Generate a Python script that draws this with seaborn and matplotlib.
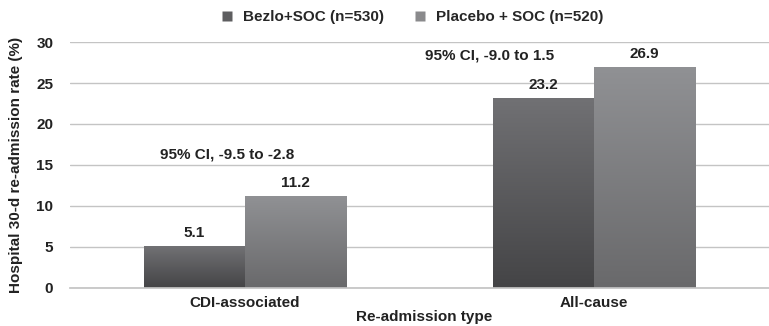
import numpy as np
import pandas as pd
import seaborn as sns
import matplotlib.pyplot as plt
from matplotlib.colors import LinearSegmentedColormap
from matplotlib.lines import Line2D

# dados do grafico
categorias = ["CDI-associated", "All-cause"]
grupos = ["Bezlo+SOC (n=530)", "Placebo + SOC (n=520)"]
bezlo = [5.1, 23.2]
placebo = [11.2, 26.9]
ci_textos = ["95% CI, -9.5 to -2.8", "95% CI, -9.0 to 1.5"]

df = pd.DataFrame({
    "tipo": categorias * 2,
    "grupo": [grupos[0]] * 2 + [grupos[1]] * 2,
    "taxa": bezlo + placebo,
})

sns.set_theme(style="white")
plt.rcParams["font.family"] = ["Liberation Sans", "DejaVu Sans"]
plt.rcParams["font.weight"] = "bold"

fs = 11
cor_txt = "#222222"

fig = plt.figure(figsize=(7.69, 3.26), dpi=100)
ax = fig.add_axes([0.091, 0.117, 0.909, 0.754])

cores = {grupos[0]: "#5e5e60", grupos[1]: "#7e7f81"}
sns.barplot(data=df, x="tipo", y="taxa", hue="grupo", order=categorias,
            hue_order=grupos, palette=cores, width=0.578, ax=ax,
            legend=False, saturation=1, edgecolor="none")

# gradiente vertical nas barras
gradientes = {
    grupos[0]: LinearSegmentedColormap.from_list("g0", ["#444446", "#717174"]),
    grupos[1]: LinearSegmentedColormap.from_list("g1", ["#69696b", "#909194"]),
}
ordem = [grupos[0]] * 2 + [grupos[1]] * 2
grad = np.linspace(0, 1, 256).reshape(-1, 1)
for patch, g in zip(ax.patches, ordem):
    x0, y0 = patch.get_x(), patch.get_y()
    w, h = patch.get_width(), patch.get_height()
    im = ax.imshow(grad, cmap=gradientes[g], origin="lower", aspect="auto",
                   extent=[x0, x0 + w, y0, y0 + h], zorder=patch.get_zorder())
    im.set_clip_path(patch)
    ax.text(x0 + w / 2, y0 + h + 1.6, f"{h:.1f}", ha="center", va="center",
            fontsize=fs, fontweight="bold", color=cor_txt)

ax.set_xlim(-0.5, 1.5)
ax.set_ylim(0, 30)
ax.set_yticks(range(0, 31, 5))
ax.yaxis.grid(True, color="#c4c4c4", linewidth=1)
ax.set_axisbelow(True)
for s in ["left", "right", "top"]:
    ax.spines[s].set_visible(False)
ax.spines["bottom"].set_color("#c4c4c4")
ax.tick_params(axis="y", length=0, labelsize=fs, colors=cor_txt, pad=12)
ax.tick_params(axis="x", length=0, labelsize=fs, colors=cor_txt, pad=6)
for lbl in ax.get_xticklabels() + ax.get_yticklabels():
    lbl.set_fontweight("bold")

ax.set_ylabel("Hospital 30-d re-admission rate (%)", fontsize=fs,
              fontweight="bold", color=cor_txt, va="center")
ax.yaxis.set_label_coords(-0.077, 0.5)
ax.set_xlabel("Re-admission type", fontsize=fs, fontweight="bold",
              color=cor_txt, va="center")
ax.xaxis.set_label_coords(0.506, -0.118)

# textos de intervalo de confianca
ax.text(-0.05, 16.3, ci_textos[0], ha="center", va="center", fontsize=fs,
        fontweight="bold", color=cor_txt)
ax.text(0.70, 28.3, ci_textos[1], ha="center", va="center", fontsize=fs,
        fontweight="bold", color=cor_txt)

handles = [Line2D([], [], marker="s", linestyle="none", markersize=7,
                  markerfacecolor=c, markeredgecolor="none")
           for c in ["#5e5e60", "#8a8a8c"]]
fig.legend(handles, grupos, loc="center", bbox_to_anchor=(0.53, 0.948), ncol=2,
           frameon=False, handletextpad=0.0, columnspacing=1.4,
           prop={"weight": "bold", "size": fs})

fig.savefig("out.png", dpi=100)
